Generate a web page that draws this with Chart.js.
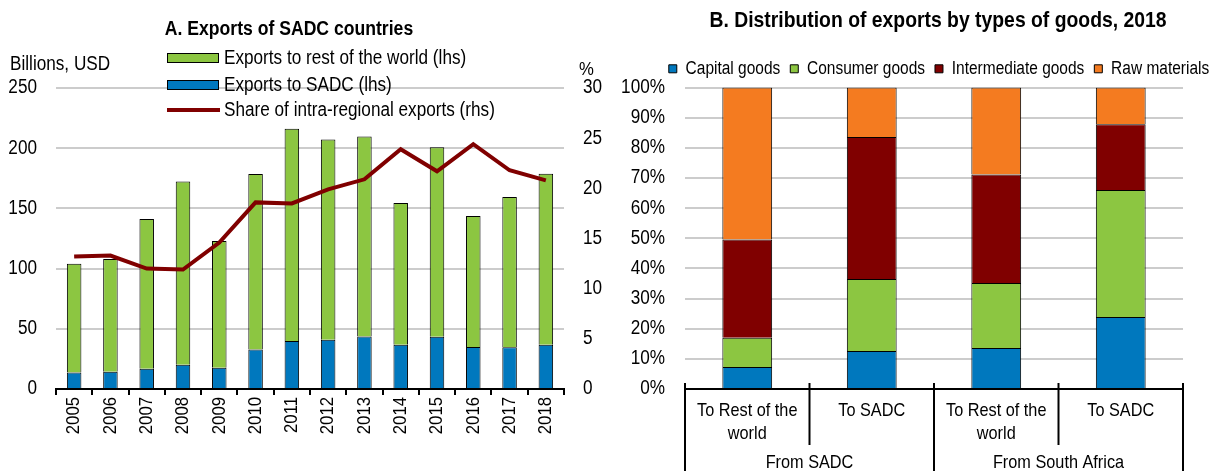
<!DOCTYPE html>
<html><head><meta charset="utf-8">
<script src="https://cdn.jsdelivr.net/npm/chart.js@4.4.0/dist/chart.umd.min.js"></script>
<style>
html,body{margin:0;padding:0;background:#fff;overflow:hidden;width:1215px;height:471px;}
#wrap{position:relative;width:1215px;height:471px;overflow:hidden;}
.t{position:absolute;font-family:'Liberation Sans',Arial,sans-serif;color:#000;white-space:nowrap;line-height:1;transform-origin:left center;transform:translateY(-50%) scaleX(0.88);}
.c{transform-origin:center center;transform:translate(-50%,-50%) scaleX(0.88);}
.b{font-weight:bold;}
canvas{position:absolute;top:0;}
.sw{position:absolute;box-sizing:border-box;}
</style></head><body>
<div id="wrap">
  <canvas id="left" width="605" height="471" style="left:0px;width:605px;height:471px;"></canvas>
  <canvas id="right" width="668" height="471" style="left:605px;width:668px;height:471px;"></canvas>

  <div class="t c b" style="left:289px;top:28px;font-size:20px;">A. Exports of SADC countries</div>
  <div class="t c b" style="left:938px;top:20px;font-size:22px;">B. Distribution of exports by types of goods, 2018</div>
  <div class="t" style="left:10px;top:64px;font-size:19.5px;">Billions, USD</div>
  <div class="t" style="left:579px;top:68px;font-size:19px;">%</div>

  <div class="sw" style="left:167px;top:53px;width:52px;height:10px;background:#8CC641;border:1px solid #000;"></div>
  <div class="t" style="left:224px;top:58px;font-size:19.5px;">Exports to rest of the world (lhs)</div>
  <div class="sw" style="left:167px;top:80px;width:52px;height:10px;background:#0078BE;border:1px solid #000;"></div>
  <div class="t" style="left:224px;top:85px;font-size:19.5px;">Exports to SADC (lhs)</div>
  <div class="sw" style="left:167px;top:108px;width:53px;height:4px;background:#800000;"></div>
  <div class="t" style="left:224px;top:110px;font-size:19.5px;">Share of intra-regional exports (rhs)</div>
</div>
<script>
const FONT = "'Liberation Sans', Arial, sans-serif";
const NARROW = 0.88;

// ---- Panel A data ----
const years = ['2005','2006','2007','2008','2009','2010','2011','2012','2013','2014','2015','2016','2017','2018'];
const exportsToSADC = [13.8, 14.4, 16.9, 20.2, 17.7, 32.9, 39.9, 40.9, 43.7, 36.8, 43.4, 34.9, 34.6, 36.8];
const exportsToRestOfWorld = [90.3, 93.6, 124.3, 152.2, 105.2, 145.7, 176.3, 166.4, 166.1, 117.7, 157.3, 108.8, 124.9, 142.0];
const intraRegionalShare = [13.2, 13.3, 12.0, 11.9, 14.6, 18.6, 18.5, 19.9, 20.9, 23.9, 21.7, 24.4, 21.8, 20.8];
const leftTicks = [0, 50, 100, 150, 200, 250];
const rightTicks = [0, 5, 10, 15, 20, 25, 30];

// ---- Panel B data ----
const destinations = [['To Rest of the','world'], 'To SADC', ['To Rest of the','world'], 'To SADC'];
const origins = ['From SADC', 'From South Africa'];
const capitalGoods = [7.3, 12.6, 13.6, 23.9];
const consumerGoods = [9.7, 23.9, 21.6, 42.1];
const intermediateGoods = [32.6, 47.1, 36.0, 21.8];
const rawMaterials = [50.4, 16.4, 28.8, 12.2];
const pctTicks = [0,10,20,30,40,50,60,70,80,90,100];

const BLUE = '#0078BE', GREEN = '#8CC641', DARKRED = '#800000', ORANGE = '#F47B20';
const GRID = '#cccccc';

Chart.defaults.font.family = FONT;
Chart.defaults.color = '#000';
Chart.defaults.animation = false;

// condensed text rendering (Arial Narrow look) on a canvas context
function narrowContext(canvas) {
  const ctx = canvas.getContext('2d');
  const fill = ctx.fillText.bind(ctx), measure = ctx.measureText.bind(ctx);
  ctx.fillText = function (t, x, y) {
    ctx.save(); ctx.translate(x, y); ctx.scale(NARROW, 1); fill(t, 0, 0); ctx.restore();
  };
  ctx.measureText = function (t) {
    const m = measure(t);
    return { width: m.width * NARROW,
      actualBoundingBoxAscent: m.actualBoundingBoxAscent, actualBoundingBoxDescent: m.actualBoundingBoxDescent,
      actualBoundingBoxLeft: m.actualBoundingBoxLeft * NARROW, actualBoundingBoxRight: m.actualBoundingBoxRight * NARROW };
  };
  return canvas;
}

new Chart(narrowContext(document.getElementById('left')), {
  data: {
    labels: years,
    datasets: [
      { type: 'bar', label: 'Exports to SADC (lhs)', data: exportsToSADC, backgroundColor: BLUE, borderColor: '#000', borderWidth: 1, yAxisID: 'y', order: 1, barPercentage: 0.4, categoryPercentage: 1 },
      { type: 'bar', label: 'Exports to rest of the world (lhs)', data: exportsToRestOfWorld, backgroundColor: GREEN, borderColor: '#000', borderWidth: 1, yAxisID: 'y', order: 1, barPercentage: 0.4, categoryPercentage: 1 },
      { type: 'line', label: 'Share of intra-regional exports (rhs)', data: intraRegionalShare, borderColor: DARKRED, borderWidth: 4, pointRadius: 0, tension: 0, yAxisID: 'y1', order: 0, fill: false }
    ]
  },
  options: {
    responsive: false,
    layout: { padding: { top: 88, left: 0, right: 0, bottom: 0 } },
    plugins: { legend: { display: false }, tooltip: { enabled: false } },
    scales: {
      x: {
        stacked: true,
        grid: { display: true, offset: true, drawOnChartArea: false, drawTicks: true, tickLength: 6, color: '#000', lineWidth: 2 },
        border: { display: true, color: '#000', width: 2 },
        ticks: { minRotation: 90, maxRotation: 90, padding: 2, font: { size: 19 } },
        afterFit(s) { s.height = 82; }
      },
      y: {
        stacked: true, min: 0, max: 250,
        afterBuildTicks(s) { s.ticks = leftTicks.map(v => ({ value: v })); },
        grid: { color: GRID, lineWidth: 2, drawTicks: false },
        border: { display: false },
        ticks: { padding: 19, font: { size: 19.5 } },
        afterFit(s) { s.width = 56; }
      },
      y1: {
        position: 'right', min: 0, max: 30,
        afterBuildTicks(s) { s.ticks = rightTicks.map(v => ({ value: v })); },
        grid: { display: false, drawTicks: false },
        border: { display: false },
        ticks: { padding: 19, font: { size: 19.5 } },
        afterFit(s) { s.width = 41; }
      }
    }
  }
});

const groupPlugin = {
  id: 'groups',
  afterDraw(chart) {
    const x = chart.scales.x, ctx = chart.ctx;
    const n = destinations.length;
    const edges = [];
    for (let i = 0; i <= n; i++) {
      edges.push(i === 0 ? x.left : i === n ? x.right : (x.getPixelForValue(i - 1) + x.getPixelForValue(i)) / 2);
    }
    ctx.save();
    ctx.strokeStyle = '#000';
    ctx.lineWidth = 2;
    edges.forEach((e, i) => {
      const outer = i % 2 === 0;
      ctx.beginPath();
      ctx.moveTo(e, x.top - 6);
      ctx.lineTo(e, outer ? chart.height : x.top + 56);
      ctx.stroke();
    });
    ctx.fillStyle = '#000';
    ctx.font = '18.5px ' + FONT;
    ctx.textAlign = 'center';
    ctx.textBaseline = 'middle';
    origins.forEach((g, gi) => {
      const cx = (edges[gi * 2] + edges[gi * 2 + 2]) / 2;
      ctx.fillText(g, cx, x.top + 74);
    });
    ctx.restore();
  }
};

new Chart(narrowContext(document.getElementById('right')), {
  type: 'bar',
  data: {
    labels: destinations,
    datasets: [
      { label: 'Capital goods', data: capitalGoods, backgroundColor: BLUE },
      { label: 'Consumer goods', data: consumerGoods, backgroundColor: GREEN },
      { label: 'Intermediate goods', data: intermediateGoods, backgroundColor: DARKRED },
      { label: 'Raw materials', data: rawMaterials, backgroundColor: ORANGE }
    ].map(d => Object.assign(d, { borderColor: '#000', borderWidth: 1, barPercentage: 0.4, categoryPercentage: 1 }))
  },
  options: {
    responsive: false,
    layout: { padding: { top: 50, left: 0, right: 0, bottom: 0 } },
    plugins: {
      tooltip: { enabled: false },
      legend: {
        position: 'top',
        labels: { boxWidth: 8, boxHeight: 8, padding: 10, font: { size: 17.6 }, color: '#000' }
      }
    },
    scales: {
      x: {
        stacked: true,
        grid: { display: false },
        border: { display: true, color: '#000', width: 2 },
        ticks: { padding: 2, font: { size: 18.5, lineHeight: 1.25 }, maxRotation: 0, autoSkip: false },
        afterFit(s) { s.height = 82; }
      },
      y: {
        stacked: true, min: 0, max: 100,
        afterBuildTicks(s) { s.ticks = pctTicks.map(v => ({ value: v })); },
        grid: { color: GRID, lineWidth: 2, drawTicks: false },
        border: { display: false },
        ticks: { padding: 20, font: { size: 19.5 }, callback: v => v + '%' },
        afterFit(s) { s.width = 80; }
      },
      dummy: {
        position: 'right', display: true,
        grid: { display: false, drawTicks: false },
        border: { display: false },
        ticks: { display: false },
        afterFit(s) { s.width = 90; }
      }
    }
  },
  plugins: [groupPlugin]
});
</script>
</body></html>
